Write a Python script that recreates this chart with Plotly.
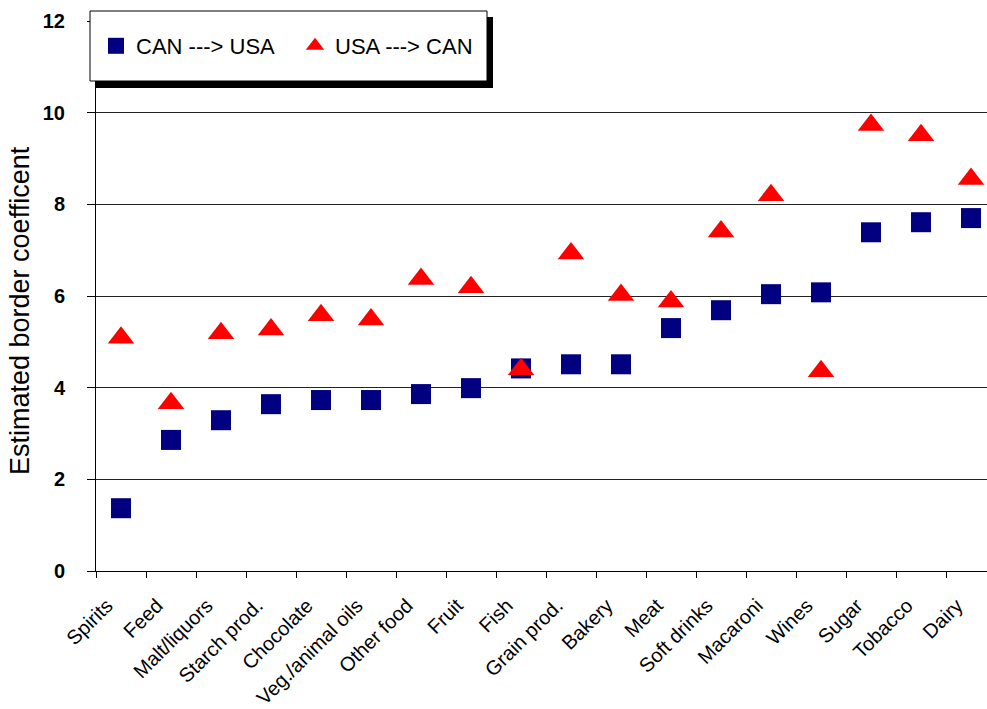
"""Estimated border coefficients by food category: CAN->USA vs USA->CAN"""
import plotly.graph_objects as go

COLOR_CAN_USA = "#000080"
COLOR_USA_CAN = "#ff0000"
COLOR_GRID = "#222222"
FONT = "Liberation Sans, Arial, sans-serif"

categories = [
    "Spirits", "Feed", "Malt/liquors", "Starch prod.", "Chocolate",
    "Veg./animal oils", "Other food", "Fruit", "Fish", "Grain prod.",
    "Bakery", "Meat", "Soft drinks", "Macaroni", "Wines", "Sugar",
    "Tobacco", "Dairy",
]
can_to_usa = [
    1.37, 2.86, 3.29, 3.64, 3.73, 3.73, 3.86, 3.99, 4.42, 4.51,
    4.51, 5.30, 5.69, 6.04, 6.08, 7.39, 7.61, 7.70,
]
usa_to_can = [
    5.09, 3.66, 5.19, 5.27, 5.58, 5.49, 6.37, 6.19, 4.40, 6.93,
    6.02, 5.88, 7.41, 8.20, 4.36, 9.73, 9.51, 8.55,
]
y_ticks = [0, 2, 4, 6, 8, 10, 12]

W, H = 987, 709
PLOT_LEFT, PLOT_TOP, PLOT_BOTTOM = 96, 21, 571  # pixels
L, T, R, B = PLOT_LEFT, PLOT_TOP, 0, H - PLOT_BOTTOM
PW, PH = W - L - R, H - T - B


def px_x(x):
    return (x - PLOT_LEFT) / PW


def px_y(y):
    return (PLOT_BOTTOM - y) / PH


fig = go.Figure()

fig.add_trace(
    go.Scatter(
        x=categories, y=can_to_usa, mode="markers", name="CAN ---> USA",
        marker=dict(symbol="square", size=20, color=COLOR_CAN_USA, line=dict(width=0)),
        cliponaxis=False,
    )
)
fig.add_trace(
    go.Scatter(
        x=categories, y=usa_to_can, mode="markers", name="USA ---> CAN",
        marker=dict(symbol="triangle-up", size=23, color=COLOR_USA_CAN, line=dict(width=0)),
        cliponaxis=False,
    )
)

# legend box with drop shadow (drawn as shapes, legend itself transparent on top)
fig.add_shape(type="rect", xref="paper", yref="paper",
              x0=px_x(96), x1=px_x(493), y0=px_y(88), y1=px_y(17),
              fillcolor="black", line=dict(width=0), layer="above")
fig.add_shape(type="rect", xref="paper", yref="paper",
              x0=px_x(90), x1=px_x(487), y0=px_y(81), y1=px_y(11),
              fillcolor="white", line=dict(color="black", width=1), layer="above")

# y-axis title as annotation (sits a bit below the plot's centre in the original)
fig.add_annotation(
    text="Estimated border coefficent", textangle=-90,
    xref="paper", yref="paper", x=px_x(20), y=px_y(311),
    xanchor="center", yanchor="middle", showarrow=False,
    font=dict(size=27, family=FONT, color="black"),
)

fig.update_layout(
    width=W, height=H,
    margin=dict(l=L, r=R, t=T, b=B, autoexpand=False),
    plot_bgcolor="white", paper_bgcolor="white",
    font=dict(family=FONT, color="black"),
    showlegend=True,
    legend=dict(
        orientation="h", x=px_x(96), y=px_y(25), xanchor="left", yanchor="top",
        bgcolor="rgba(0,0,0,0)", borderwidth=0,
        font=dict(size=22, family=FONT), entrywidth=154,
    ),
    xaxis=dict(
        type="category", categoryorder="array", categoryarray=categories,
        range=[-0.5, -0.5 + PW / 50], tickson="boundaries",
        ticks="outside", ticklen=6, tickcolor="black",
        tickangle=-45, tickfont=dict(size=20),
        ticklabelstandoff=14, ticklabelshift=-14,
        showline=True, linecolor="black", linewidth=1,
        showgrid=False, zeroline=False, automargin=False,
    ),
    yaxis=dict(
        range=[0, 12], tickvals=y_ticks,
        ticks="outside", ticklen=8, tickcolor="black",
        tickfont=dict(size=20, weight="bold"), ticklabelstandoff=18,
        showline=True, linecolor="black", linewidth=1,
        showgrid=True, gridcolor=COLOR_GRID, gridwidth=1, zeroline=False,
        automargin=False,
    ),
)

# drop the browser's default 8px body margin so the figure fills the page
fig.write_html(
    "out.html",
    config={"displayModeBar": False},
    post_script="document.body.style.margin='0';",
)
